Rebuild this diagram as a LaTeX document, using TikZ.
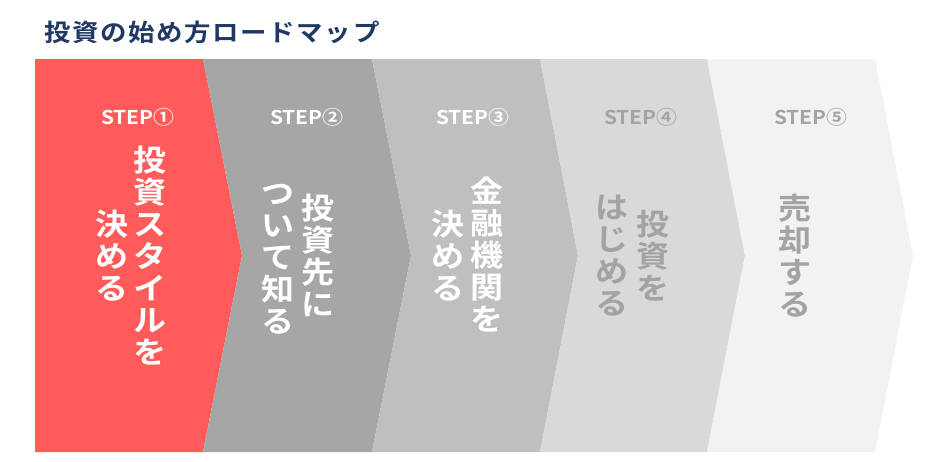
\documentclass[tikz,border=0pt]{standalone}
\usepackage{fontspec}
\setmainfont{Noto Sans CJK JP}[BoldFont={* Bold}]
\newfontfamily\jpbold{Noto Sans CJK JP Bold}[FakeStretch=1.1]
\newfontfamily\jptitle{Noto Sans CJK JP Bold}[FakeStretch=1.1,LetterSpace=7]
\definecolor{stepred}{HTML}{FF5B5B}
\definecolor{gA}{HTML}{A6A6A6}
\definecolor{gB}{HTML}{BFBFBF}
\definecolor{gC}{HTML}{D9D9D9}
\definecolor{gD}{HTML}{F2F2F2}
\definecolor{navy}{HTML}{1F3864}
\definecolor{txtgray}{HTML}{A3A3A3}
\tikzset{
  steplabel/.style={font=\jpbold\fontsize{19}{20}\selectfont, inner sep=0pt, anchor=center},
  vcol/.style={font=\jpbold\fontsize{30}{32}\selectfont, align=center, inner sep=0pt, anchor=center},
}
\begin{document}
\begin{tikzpicture}[x=1pt,y=-1pt]
\useasboundingbox (0,0) rectangle (931,461);
\fill[white] (0,0) rectangle (931,461);
% title
\node[font=\jptitle\fontsize{24}{26}\selectfont, text=navy, anchor=west, inner sep=0pt] (title) at (44,32) {投資の始め方ロードマップ};
% chevrons
\fill[stepred] (35,59) -- (203,59) -- (242,255.5) -- (203,452) -- (35,452) -- cycle;
\fill[gA] (203,59) -- (372,59) -- (411,255.5) -- (372,452) -- (203,452) -- (242,255.5) -- cycle;
\fill[gB] (372,59) -- (540,59) -- (578,255.5) -- (540,452) -- (372,452) -- (411,255.5) -- cycle;
\fill[gC] (540,59) -- (707,59) -- (745,255.5) -- (707,452) -- (540,452) -- (578,255.5) -- cycle;
\fill[gD] (707,59) -- (875,59) -- (913,255.5) -- (875,452) -- (707,452) -- (745,255.5) -- cycle;
% step labels
\node[steplabel, text=white] (l1) at (138,117) {STEP①};
\node[steplabel, text=white] (l2) at (307,117) {STEP②};
\node[steplabel, text=white] (l3) at (473,117) {STEP③};
\node[steplabel, text=txtgray] (l4) at (641,117) {STEP④};
\node[steplabel, text=txtgray] (l5) at (811,117) {STEP⑤};
% vertical texts
\node[vcol, text=white] (t1a) at (150,256) {投\\資\\ス\\タ\\イ\\ル\\を};
\node[vcol, text=white] (t1b) at (112,256) {決\\め\\る};
\node[vcol, text=white] (t2a) at (318,255) {投\\資\\先\\に};
\node[vcol, text=white] (t2b) at (278,259) {つ\\い\\て\\知\\る};
\node[vcol, text=white] (t3a) at (487,255) {金\\融\\機\\関\\を};
\node[vcol, text=white] (t3b) at (448,256) {決\\め\\る};
\node[vcol, text=txtgray] (t4a) at (653,256) {投\\資\\を};
\node[vcol, text=txtgray] (t4b) at (612,256) {は\\じ\\め\\る};
\node[vcol, text=txtgray] (t5) at (795,256) {売\\却\\す\\る};
\end{tikzpicture}
\end{document}
